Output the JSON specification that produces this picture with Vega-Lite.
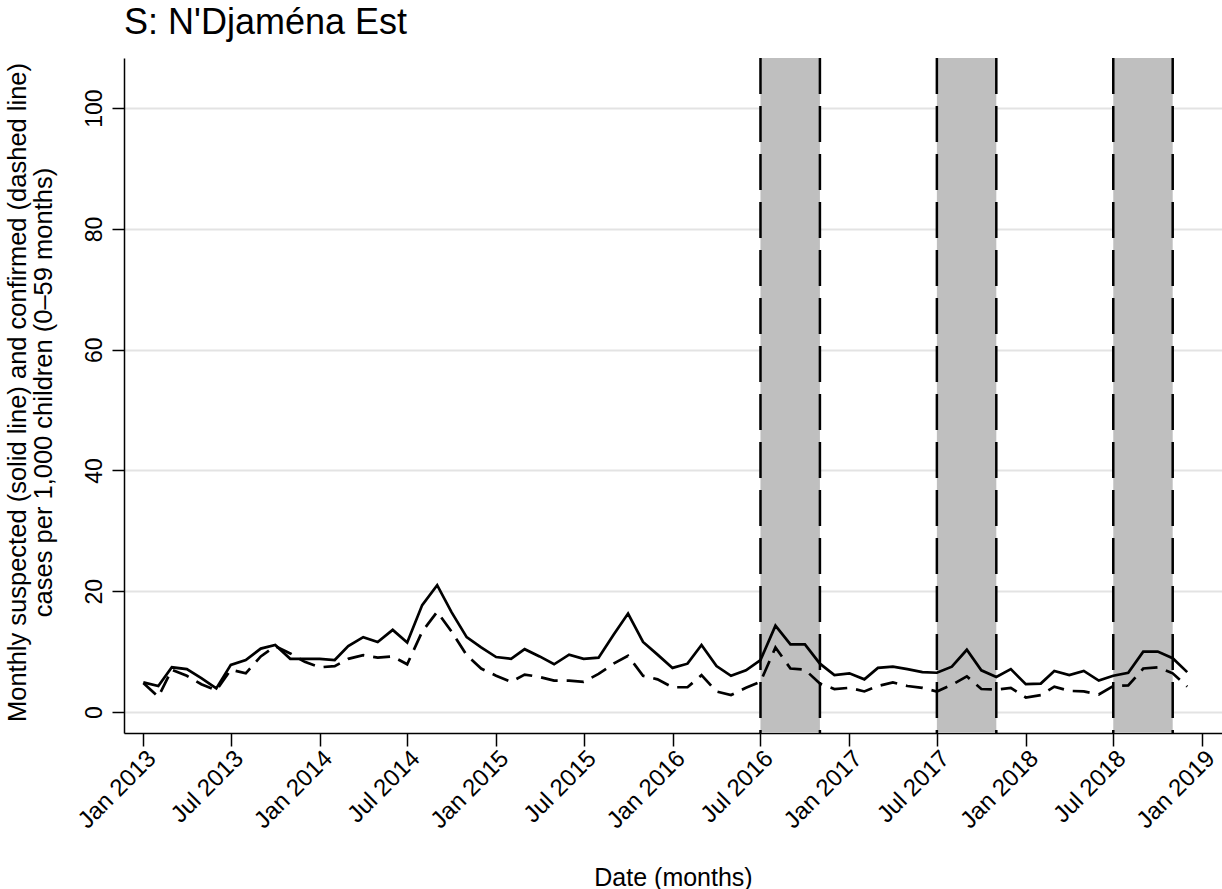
{
  "$schema": "https://vega.github.io/schema/vega-lite/v6.json",
  "width": 1098,
  "height": 675,
  "autosize": "none",
  "padding": {"left": 124, "top": 58, "right": 0, "bottom": 156},
  "background": "white",
  "title": {
    "text": "S: N'Djaména Est",
    "anchor": "start",
    "frame": "group",
    "fontSize": 36,
    "font": "Liberation Sans",
    "fontWeight": "normal",
    "color": "black",
    "baseline": "alphabetic",
    "offset": -13
  },
  "config": {
    "view": {"stroke": null},
    "font": "Liberation Sans",
    "axis": {
      "labelFont": "Liberation Sans",
      "titleFont": "Liberation Sans",
      "labelColor": "black",
      "titleColor": "black",
      "titleFontWeight": "normal",
      "domainColor": "black",
      "domainWidth": 1.5,
      "tickColor": "black",
      "tickWidth": 1.5
    }
  },
  "datasets": {
    "series": [
      {"date": "2013-01-01T00:00", "suspected": 4.9, "confirmed": 4.8},
      {"date": "2013-02-01T00:00", "suspected": 4.3, "confirmed": 2.5},
      {"date": "2013-03-01T00:00", "suspected": 7.4, "confirmed": 7.0},
      {"date": "2013-04-01T00:00", "suspected": 7.1, "confirmed": 6.0},
      {"date": "2013-05-01T00:00", "suspected": 5.6, "confirmed": 4.6},
      {"date": "2013-06-01T00:00", "suspected": 3.9, "confirmed": 3.6},
      {"date": "2013-07-01T00:00", "suspected": 7.8, "confirmed": 7.0},
      {"date": "2013-08-01T00:00", "suspected": 8.6, "confirmed": 6.4},
      {"date": "2013-09-01T00:00", "suspected": 10.5, "confirmed": 9.2},
      {"date": "2013-10-01T00:00", "suspected": 11.1, "confirmed": 10.9},
      {"date": "2013-11-01T00:00", "suspected": 8.8, "confirmed": 9.7},
      {"date": "2013-12-01T00:00", "suspected": 8.8, "confirmed": 8.3},
      {"date": "2014-01-01T00:00", "suspected": 8.8, "confirmed": 7.4},
      {"date": "2014-02-01T00:00", "suspected": 8.6, "confirmed": 7.6},
      {"date": "2014-03-01T00:00", "suspected": 10.9, "confirmed": 8.8},
      {"date": "2014-04-01T00:00", "suspected": 12.4, "confirmed": 9.4},
      {"date": "2014-05-01T00:00", "suspected": 11.6, "confirmed": 9.0},
      {"date": "2014-06-01T00:00", "suspected": 13.6, "confirmed": 9.2},
      {"date": "2014-07-01T00:00", "suspected": 11.5, "confirmed": 7.9},
      {"date": "2014-08-01T00:00", "suspected": 17.7, "confirmed": 13.3},
      {"date": "2014-09-01T00:00", "suspected": 21.0, "confirmed": 16.6},
      {"date": "2014-10-01T00:00", "suspected": 16.5, "confirmed": 13.3},
      {"date": "2014-11-01T00:00", "suspected": 12.4, "confirmed": 9.4},
      {"date": "2014-12-01T00:00", "suspected": 10.7, "confirmed": 7.2},
      {"date": "2015-01-01T00:00", "suspected": 9.1, "confirmed": 6.0},
      {"date": "2015-02-01T00:00", "suspected": 8.8, "confirmed": 5.0},
      {"date": "2015-03-01T00:00", "suspected": 10.4, "confirmed": 6.2},
      {"date": "2015-04-01T00:00", "suspected": 9.2, "confirmed": 5.8},
      {"date": "2015-05-01T00:00", "suspected": 7.9, "confirmed": 5.2},
      {"date": "2015-06-01T00:00", "suspected": 9.5, "confirmed": 5.2},
      {"date": "2015-07-01T00:00", "suspected": 8.8, "confirmed": 5.0},
      {"date": "2015-08-01T00:00", "suspected": 9.0, "confirmed": 6.3},
      {"date": "2015-09-01T00:00", "suspected": 12.8, "confirmed": 8.0},
      {"date": "2015-10-01T00:00", "suspected": 16.3, "confirmed": 9.3},
      {"date": "2015-11-01T00:00", "suspected": 11.6, "confirmed": 6.0},
      {"date": "2015-12-01T00:00", "suspected": 9.5, "confirmed": 5.4},
      {"date": "2016-01-01T00:00", "suspected": 7.3, "confirmed": 4.1},
      {"date": "2016-02-01T00:00", "suspected": 8.0, "confirmed": 4.1},
      {"date": "2016-03-01T00:00", "suspected": 11.1, "confirmed": 6.1},
      {"date": "2016-04-01T00:00", "suspected": 7.6, "confirmed": 3.4},
      {"date": "2016-05-01T00:00", "suspected": 6.0, "confirmed": 2.8},
      {"date": "2016-06-01T00:00", "suspected": 6.9, "confirmed": 4.0},
      {"date": "2016-07-01T00:00", "suspected": 8.6, "confirmed": 5.0},
      {"date": "2016-08-01T00:00", "suspected": 14.3, "confirmed": 10.7},
      {"date": "2016-09-01T00:00", "suspected": 11.2, "confirmed": 7.2},
      {"date": "2016-10-01T00:00", "suspected": 11.2, "confirmed": 7.0},
      {"date": "2016-11-01T00:00", "suspected": 8.0, "confirmed": 4.7},
      {"date": "2016-12-01T00:00", "suspected": 6.1, "confirmed": 3.8},
      {"date": "2017-01-01T00:00", "suspected": 6.4, "confirmed": 4.0},
      {"date": "2017-02-01T00:00", "suspected": 5.4, "confirmed": 3.4},
      {"date": "2017-03-01T00:00", "suspected": 7.3, "confirmed": 4.3},
      {"date": "2017-04-01T00:00", "suspected": 7.5, "confirmed": 4.9},
      {"date": "2017-05-01T00:00", "suspected": 7.1, "confirmed": 4.3},
      {"date": "2017-06-01T00:00", "suspected": 6.6, "confirmed": 4.0},
      {"date": "2017-07-01T00:00", "suspected": 6.5, "confirmed": 3.4},
      {"date": "2017-08-01T00:00", "suspected": 7.5, "confirmed": 4.5},
      {"date": "2017-09-01T00:00", "suspected": 10.3, "confirmed": 5.9},
      {"date": "2017-10-01T00:00", "suspected": 6.9, "confirmed": 3.8},
      {"date": "2017-11-01T00:00", "suspected": 5.8, "confirmed": 3.7},
      {"date": "2017-12-01T00:00", "suspected": 7.1, "confirmed": 4.0},
      {"date": "2018-01-01T00:00", "suspected": 4.6, "confirmed": 2.4},
      {"date": "2018-02-01T00:00", "suspected": 4.7, "confirmed": 2.8},
      {"date": "2018-03-01T00:00", "suspected": 6.8, "confirmed": 4.2},
      {"date": "2018-04-01T00:00", "suspected": 6.1, "confirmed": 3.5},
      {"date": "2018-05-01T00:00", "suspected": 6.8, "confirmed": 3.4},
      {"date": "2018-06-01T00:00", "suspected": 5.2, "confirmed": 2.9},
      {"date": "2018-07-01T00:00", "suspected": 6.0, "confirmed": 4.3},
      {"date": "2018-08-01T00:00", "suspected": 6.5, "confirmed": 4.4},
      {"date": "2018-09-01T00:00", "suspected": 10.0, "confirmed": 7.2},
      {"date": "2018-10-01T00:00", "suspected": 10.0, "confirmed": 7.4},
      {"date": "2018-11-01T00:00", "suspected": 8.9, "confirmed": 6.4},
      {"date": "2018-12-01T00:00", "suspected": 6.6, "confirmed": 4.2}
    ],
    "bands": [
      {"start": "2016-07-01T00:00", "end": "2016-11-01T00:00"},
      {"start": "2017-07-01T00:00", "end": "2017-11-01T00:00"},
      {"start": "2018-07-01T00:00", "end": "2018-11-01T00:00"}
    ]
  },
  "layer": [
    {
      "data": {"name": "bands"},
      "mark": {"type": "rect", "fill": "#bfbfbf"},
      "encoding": {
        "x": {
          "field": "start", "type": "temporal", "title": "Date (months)",
          "scale": {"domain": [{"year": 2012, "month": 11, "date": 22}, {"year": 2019, "month": 2, "date": 11}], "nice": false}
        },
        "x2": {"field": "end"}
      }
    },
    {
      "data": {"name": "bands"},
      "mark": {"type": "rule", "color": "black", "strokeWidth": 2.5, "strokeDash": [36, 12]},
      "encoding": {
        "x": {"field": "start", "type": "temporal", "title": "Date (months)"}
      }
    },
    {
      "data": {"name": "bands"},
      "mark": {"type": "rule", "color": "black", "strokeWidth": 2.5, "strokeDash": [36, 12]},
      "encoding": {
        "x": {"field": "end", "type": "temporal", "title": "Date (months)"}
      }
    },
    {
      "data": {"name": "series"},
      "mark": {"type": "line", "color": "black", "strokeWidth": 2.7},
      "encoding": {
        "x": {
          "field": "date", "type": "temporal", "title": "Date (months)",
          "axis": {
            "values": [
              {"year": 2013, "month": 1, "date": 1}, {"year": 2013, "month": 7, "date": 1},
              {"year": 2014, "month": 1, "date": 1}, {"year": 2014, "month": 7, "date": 1},
              {"year": 2015, "month": 1, "date": 1}, {"year": 2015, "month": 7, "date": 1},
              {"year": 2016, "month": 1, "date": 1}, {"year": 2016, "month": 7, "date": 1},
              {"year": 2017, "month": 1, "date": 1}, {"year": 2017, "month": 7, "date": 1},
              {"year": 2018, "month": 1, "date": 1}, {"year": 2018, "month": 7, "date": 1},
              {"year": 2019, "month": 1, "date": 1}
            ],
            "format": "%b %Y",
            "grid": false,
            "tickSize": 13,
            "labelAngle": 315,
            "labelAlign": "right",
            "labelBaseline": "top",
            "labelPadding": 0,
            "labelFontSize": 24,
            "labelOverlap": false,
            "labelFlush": false,
            "titleFontSize": 25,
            "titleBaseline": "alphabetic",
            "titleY": 152
          }
        },
        "y": {
          "field": "suspected", "type": "quantitative",
          "title": ["Monthly suspected (solid line) and confirmed (dashed line)", "cases per 1,000 children (0–59 months)"],
          "scale": {"domain": [-3.48, 108.3], "nice": false, "zero": false},
          "axis": {
            "values": [0, 20, 40, 60, 80, 100],
            "grid": true,
            "gridColor": "#e3e3e3",
            "gridWidth": 2,
            "tickSize": 12,
            "labelAngle": 270,
            "labelAlign": "center",
            "labelBaseline": "alphabetic",
            "labelPadding": 11,
            "labelFontSize": 23,
            "titleFontSize": 25.5,
            "titleAngle": 270,
            "titleAlign": "center",
            "titleBaseline": "middle",
            "titleLineHeight": 26,
            "titleX": -107,
            "titleY": 334
          }
        }
      }
    },
    {
      "data": {"name": "series"},
      "mark": {"type": "line", "color": "black", "strokeWidth": 2.7, "strokeDash": [17, 9]},
      "encoding": {
        "x": {"field": "date", "type": "temporal", "title": "Date (months)"},
        "y": {
          "field": "confirmed", "type": "quantitative",
          "title": ["Monthly suspected (solid line) and confirmed (dashed line)", "cases per 1,000 children (0–59 months)"]
        }
      }
    }
  ]
}
